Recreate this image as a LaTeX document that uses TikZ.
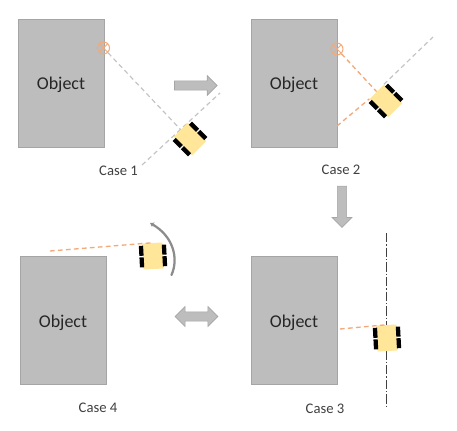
\documentclass[tikz,border=0pt]{standalone}
\usepackage{fontspec}
\setmainfont{Carlito}
\usetikzlibrary{shapes.arrows, arrows.meta, positioning}
\definecolor{Obj_Gray}{HTML}{BDBDBD}
\definecolor{Obj_Edge}{HTML}{A5A5A5}
\definecolor{Car_Yellow}{HTML}{FFE699}
\definecolor{Ray_Orange}{HTML}{F4A97A}
\definecolor{Ray_Gray}{HTML}{C4C4C4}
\definecolor{Txt_Gray}{HTML}{404040}
\tikzset{
    object/.style={minimum width=64.5pt, minimum height=96pt, inner sep=0pt, draw=Obj_Edge, fill=Obj_Gray, line width=0.7pt, font=\fontsize{13.5}{15}\selectfont, text=black!85, text height=10pt, text depth=0pt},
    caselabel/.style={font=\fontsize{11}{13}\selectfont, text=Txt_Gray},
    carbody/.style={minimum width=15pt, minimum height=19.5pt, inner sep=0pt, fill=Car_Yellow, transform shape},
    wheel/.style={minimum width=3.2pt, minimum height=7.5pt, inner sep=0pt, fill=black, transform shape},
    target/.style={circle, minimum size=9pt, inner sep=0pt, draw=Ray_Orange, line width=0.8pt,
        path picture={\draw[Ray_Orange, line width=0.6pt] (path picture bounding box.north west) -- (path picture bounding box.south east) (path picture bounding box.north east) -- (path picture bounding box.south west);}},
    grayray/.style={draw=Ray_Gray, line width=0.9pt, dash pattern=on 3.5pt off 2.5pt},
    orangeray/.style={draw=Ray_Orange, line width=1pt, dash pattern=on 3.5pt off 2.5pt},
    blockarrow/.style={draw=Obj_Edge, fill=Obj_Gray, line width=0.5pt, inner sep=3.2pt, minimum height=32pt, single arrow, single arrow head extend=4pt, single arrow head indent=0pt},
    pics/car/.style={code={
        \node[carbody] (-body) at (0,0) {};
        \node[wheel] at (-11.5,-5.8) {};
        \node[wheel] at (-11.5,5.8) {};
        \node[wheel] at (11.5,-5.8) {};
        \node[wheel] at (11.5,5.8) {};
    }}
}

\begin{document}
\begin{tikzpicture}[x=0.75pt, y=-0.75pt]
\useasboundingbox (0,0) rectangle (457,431);

% objects
\node[object] (obj1) at (61,83) {Object};
\node[object] (obj2) at (294,83) {Object};
\node[object] (obj3) at (294,320.5) {Object};
\node[object] (obj4) at (63,320.5) {Object};

% free ends of the rays
\coordinate (ray1a) at (142,165);
\coordinate (ray1b) at (220,93);
\coordinate (ray2a) at (337,126);
\coordinate (ray2b) at (433,37);
\coordinate (ray3a) at (340,329);
\coordinate (ray4a) at (50,251);
\coordinate (axis3a) at (386,233);
\coordinate (axis3b) at (386,409);

\draw[grayray] (ray1a) -- (ray1b);
\draw[draw=Txt_Gray, line width=0.7pt, dash pattern=on 7pt off 1.5pt on 1pt off 1.5pt] (axis3a) -- (axis3b);

% cars
\pic (car1) [rotate=45] at (190,139) {car};
\pic (car2) [rotate=45] at (386,101) {car};
\pic (car3) [rotate=3] at (387,338) {car};
\pic (car4) [rotate=3] at (153,256) {car};

% targets
\node[target] (tgt1) at (103.5,48) {};
\node[target] (tgt2) at (337,49) {};

\draw[grayray] (tgt1) -- (car1-body.north);
\draw[orangeray] (tgt2) -- (car2-body.north);
\draw[orangeray] (ray2a) -- (car2-body.north west);
\draw[grayray] (car2-body.north east) -- (ray2b);
\draw[orangeray] (ray3a) -- (car3-body.north);
\draw[orangeray] (ray4a) -- (car4-body.north);

% turning arrow
\coordinate (turna) at (171.5,275);
\coordinate (turnb) at (150,223);
\draw[draw=black!45, line width=1.7pt, line cap=round, -{Stealth[length=3pt, width=4pt]}] (turna) .. controls (179,258) and (173,236) .. (turnb);

% block arrows
\node[blockarrow] (arrow12) at (193.5,85.5) {};
\node[blockarrow, minimum height=31pt, shape border rotate=270] (arrow23) at (342,204.5) {};
\node[blockarrow, double arrow, double arrow head extend=4pt, double arrow head indent=0pt] (arrow34) at (196.5,316.5) {};

% labels
\node[caselabel] (case1) at (118.5,171) {Case 1};
\node[caselabel] (case2) at (341,170) {Case 2};
\node[caselabel] (case3) at (325,409) {Case 3};
\node[caselabel] (case4) at (98,408) {Case 4};
\end{tikzpicture}
\end{document}
